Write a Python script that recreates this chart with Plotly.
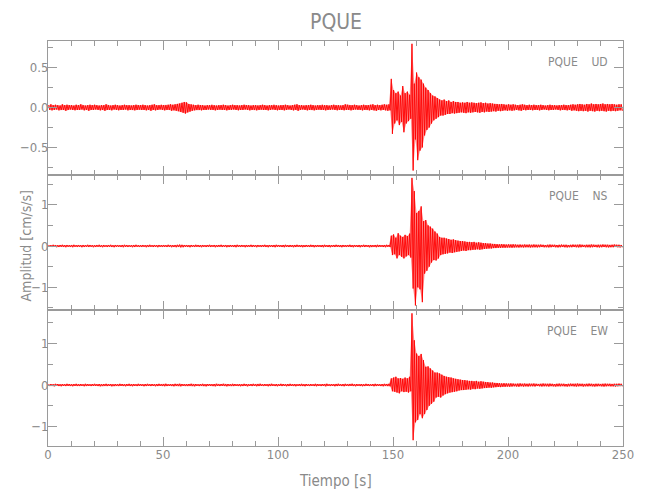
import plotly.graph_objects as go

# ---------------- data (envelope read per second, 0..249 s) ----------------
time_s = list(range(250))

ud_up = [
    0.03, 0.04, 0.03, 0.035, 0.03, 0.025, 0.04, 0.03, 0.035, 0.03,
    0.03, 0.025, 0.035, 0.03, 0.04, 0.03, 0.025, 0.03, 0.035, 0.03,
    0.035, 0.03, 0.025, 0.03, 0.03, 0.04, 0.03, 0.025, 0.03, 0.035,
    0.03, 0.025, 0.03, 0.035, 0.03, 0.03, 0.025, 0.03, 0.035, 0.03,
    0.03, 0.035, 0.03, 0.025, 0.03, 0.035, 0.04, 0.03, 0.03, 0.035,
    0.03, 0.03, 0.035, 0.04, 0.035, 0.04, 0.045, 0.05, 0.06, 0.07,
    0.065, 0.045, 0.04, 0.035, 0.03, 0.035, 0.03, 0.03, 0.025, 0.03,
    0.03, 0.035, 0.03, 0.025, 0.03, 0.03, 0.035, 0.03, 0.025, 0.03,
    0.035, 0.03, 0.03, 0.025, 0.03, 0.035, 0.03, 0.03, 0.025, 0.03,
    0.03, 0.025, 0.03, 0.035, 0.03, 0.025, 0.03, 0.03, 0.035, 0.03,
    0.025, 0.03, 0.03, 0.035, 0.03, 0.025, 0.03, 0.035, 0.04, 0.03,
    0.03, 0.025, 0.03, 0.03, 0.035, 0.03, 0.025, 0.03, 0.03, 0.035,
    0.03, 0.03, 0.025, 0.03, 0.035, 0.03, 0.03, 0.025, 0.03, 0.04,
    0.035, 0.03, 0.03, 0.035, 0.03, 0.025, 0.03, 0.035, 0.03, 0.03,
    0.035, 0.04, 0.03, 0.035, 0.03, 0.035, 0.04, 0.035, 0.04, 0.36,
    0.22, 0.18, 0.2, 0.15, 0.27, 0.18, 0.2, 0.16, 0.8, 0.3,
    0.44, 0.38, 0.35, 0.3, 0.25, 0.22, 0.18, 0.15, 0.14, 0.12,
    0.1, 0.09, 0.1, 0.08, 0.09, 0.07, 0.08, 0.07, 0.07, 0.06,
    0.065, 0.06, 0.07, 0.06, 0.065, 0.06, 0.055, 0.06, 0.065, 0.055,
    0.06, 0.05, 0.055, 0.05, 0.045, 0.045, 0.04, 0.045, 0.04, 0.035,
    0.04, 0.035, 0.04, 0.035, 0.03, 0.035, 0.04, 0.035, 0.03, 0.035,
    0.03, 0.035, 0.03, 0.03, 0.035, 0.03, 0.025, 0.03, 0.035, 0.03,
    0.03, 0.025, 0.03, 0.03, 0.035, 0.03, 0.03, 0.035, 0.04, 0.035,
    0.04, 0.045, 0.04, 0.035, 0.045, 0.04, 0.05, 0.04, 0.045, 0.04,
    0.045, 0.05, 0.04, 0.045, 0.04, 0.045, 0.04, 0.035, 0.04, 0.04,
]
ud_low = [
    -0.03, -0.035, -0.03, -0.025, -0.035, -0.03, -0.03, -0.04, -0.03, -0.025,
    -0.03, -0.035, -0.03, -0.03, -0.025, -0.035, -0.03, -0.04, -0.03, -0.03,
    -0.025, -0.03, -0.035, -0.03, -0.04, -0.03, -0.03, -0.035, -0.025, -0.03,
    -0.035, -0.03, -0.03, -0.025, -0.035, -0.03, -0.03, -0.035, -0.03, -0.025,
    -0.03, -0.03, -0.035, -0.03, -0.04, -0.03, -0.035, -0.03, -0.025, -0.03,
    -0.035, -0.03, -0.03, -0.04, -0.035, -0.04, -0.045, -0.055, -0.065, -0.075,
    -0.06, -0.05, -0.04, -0.035, -0.03, -0.03, -0.035, -0.03, -0.03, -0.025,
    -0.03, -0.03, -0.035, -0.03, -0.025, -0.03, -0.03, -0.035, -0.03, -0.03,
    -0.025, -0.03, -0.035, -0.03, -0.03, -0.025, -0.03, -0.035, -0.03, -0.03,
    -0.035, -0.03, -0.025, -0.03, -0.03, -0.035, -0.03, -0.025, -0.03, -0.035,
    -0.03, -0.03, -0.035, -0.03, -0.025, -0.03, -0.035, -0.03, -0.04, -0.03,
    -0.025, -0.03, -0.035, -0.03, -0.03, -0.035, -0.03, -0.025, -0.03, -0.03,
    -0.035, -0.03, -0.03, -0.025, -0.03, -0.035, -0.03, -0.03, -0.035, -0.03,
    -0.03, -0.035, -0.03, -0.025, -0.03, -0.03, -0.035, -0.03, -0.03, -0.035,
    -0.03, -0.035, -0.04, -0.03, -0.035, -0.03, -0.035, -0.04, -0.035, -0.33,
    -0.2, -0.16, -0.22, -0.18, -0.31, -0.2, -0.17, -0.14, -0.79, -0.4,
    -0.66, -0.54, -0.5, -0.35, -0.28, -0.25, -0.2, -0.16, -0.14, -0.12,
    -0.1, -0.1, -0.09, -0.08, -0.08, -0.07, -0.075, -0.07, -0.065, -0.06,
    -0.065, -0.07, -0.06, -0.065, -0.06, -0.055, -0.06, -0.065, -0.055, -0.06,
    -0.05, -0.055, -0.05, -0.045, -0.05, -0.04, -0.045, -0.04, -0.035, -0.04,
    -0.035, -0.04, -0.035, -0.03, -0.035, -0.04, -0.03, -0.035, -0.03, -0.03,
    -0.035, -0.03, -0.03, -0.035, -0.03, -0.025, -0.03, -0.035, -0.03, -0.03,
    -0.025, -0.03, -0.035, -0.03, -0.03, -0.035, -0.03, -0.04, -0.035, -0.04,
    -0.045, -0.04, -0.045, -0.04, -0.05, -0.04, -0.045, -0.05, -0.04, -0.045,
    -0.04, -0.045, -0.05, -0.04, -0.045, -0.04, -0.045, -0.04, -0.035, -0.04,
]

ns_up = [
    0.025, 0.02, 0.03, 0.025, 0.02, 0.025, 0.03, 0.02, 0.025, 0.02,
    0.025, 0.03, 0.02, 0.025, 0.02, 0.025, 0.02, 0.03, 0.025, 0.02,
    0.02, 0.025, 0.03, 0.02, 0.025, 0.02, 0.025, 0.03, 0.02, 0.025,
    0.025, 0.02, 0.025, 0.03, 0.025, 0.02, 0.02, 0.025, 0.03, 0.02,
    0.02, 0.025, 0.02, 0.025, 0.03, 0.02, 0.025, 0.02, 0.025, 0.02,
    0.025, 0.02, 0.03, 0.025, 0.02, 0.025, 0.03, 0.035, 0.03, 0.025,
    0.025, 0.02, 0.025, 0.02, 0.03, 0.025, 0.02, 0.025, 0.02, 0.025,
    0.03, 0.02, 0.025, 0.02, 0.025, 0.03, 0.02, 0.025, 0.02, 0.025,
    0.02, 0.025, 0.03, 0.02, 0.025, 0.02, 0.025, 0.02, 0.03, 0.025,
    0.02, 0.025, 0.02, 0.025, 0.03, 0.02, 0.025, 0.02, 0.025, 0.03,
    0.025, 0.02, 0.025, 0.03, 0.02, 0.025, 0.02, 0.025, 0.03, 0.02,
    0.025, 0.02, 0.025, 0.02, 0.03, 0.025, 0.02, 0.025, 0.02, 0.025,
    0.03, 0.02, 0.025, 0.02, 0.025, 0.03, 0.025, 0.02, 0.025, 0.02,
    0.025, 0.03, 0.02, 0.025, 0.02, 0.025, 0.02, 0.03, 0.025, 0.02,
    0.025, 0.02, 0.025, 0.03, 0.025, 0.02, 0.025, 0.03, 0.025, 0.25,
    0.28, 0.2, 0.31, 0.25, 0.22, 0.27, 0.24, 0.3, 1.65, 1.33,
    0.8, 0.85, 0.96, 0.6, 0.63, 0.5, 0.47, 0.42, 0.35, 0.3,
    0.22, 0.2, 0.2, 0.18, 0.17, 0.15, 0.16, 0.14, 0.13, 0.12,
    0.12, 0.11, 0.1, 0.1, 0.09, 0.1, 0.08, 0.09, 0.08, 0.07,
    0.07, 0.06, 0.06, 0.05, 0.05, 0.045, 0.04, 0.045, 0.04, 0.035,
    0.04, 0.035, 0.04, 0.035, 0.03, 0.035, 0.03, 0.035, 0.03, 0.035,
    0.03, 0.035, 0.03, 0.03, 0.035, 0.03, 0.025, 0.03, 0.035, 0.03,
    0.03, 0.025, 0.03, 0.035, 0.03, 0.03, 0.025, 0.03, 0.035, 0.03,
    0.03, 0.035, 0.03, 0.025, 0.03, 0.03, 0.035, 0.03, 0.025, 0.03,
    0.03, 0.035, 0.03, 0.03, 0.025, 0.03, 0.035, 0.03, 0.03, 0.025,
]
ns_low = [
    -0.02, -0.025, -0.02, -0.03, -0.025, -0.02, -0.025, -0.03, -0.02, -0.025,
    -0.03, -0.02, -0.025, -0.02, -0.03, -0.025, -0.02, -0.025, -0.02, -0.03,
    -0.025, -0.02, -0.025, -0.03, -0.02, -0.025, -0.02, -0.025, -0.03, -0.02,
    -0.02, -0.025, -0.03, -0.02, -0.025, -0.02, -0.03, -0.025, -0.02, -0.025,
    -0.025, -0.02, -0.03, -0.025, -0.02, -0.025, -0.02, -0.03, -0.02, -0.025,
    -0.02, -0.025, -0.02, -0.03, -0.025, -0.03, -0.025, -0.035, -0.03, -0.02,
    -0.025, -0.03, -0.02, -0.025, -0.02, -0.025, -0.03, -0.02, -0.025, -0.02,
    -0.025, -0.02, -0.03, -0.025, -0.02, -0.025, -0.02, -0.03, -0.025, -0.02,
    -0.025, -0.03, -0.02, -0.025, -0.02, -0.03, -0.025, -0.02, -0.025, -0.02,
    -0.03, -0.02, -0.025, -0.02, -0.025, -0.03, -0.02, -0.025, -0.03, -0.02,
    -0.02, -0.025, -0.03, -0.02, -0.025, -0.02, -0.03, -0.025, -0.02, -0.025,
    -0.03, -0.025, -0.02, -0.025, -0.02, -0.03, -0.025, -0.02, -0.025, -0.03,
    -0.02, -0.025, -0.03, -0.02, -0.025, -0.02, -0.025, -0.03, -0.02, -0.025,
    -0.02, -0.025, -0.03, -0.02, -0.025, -0.03, -0.02, -0.025, -0.02, -0.03,
    -0.025, -0.02, -0.03, -0.025, -0.02, -0.025, -0.03, -0.02, -0.025, -0.22,
    -0.2, -0.3, -0.22, -0.26, -0.3, -0.25, -0.22, -0.28, -1.03, -1.44,
    -1.0, -1.05, -1.36, -0.67, -0.6, -0.5, -0.4, -0.34, -0.35, -0.3,
    -0.22, -0.2, -0.19, -0.18, -0.16, -0.17, -0.15, -0.14, -0.13, -0.12,
    -0.11, -0.12, -0.1, -0.1, -0.09, -0.09, -0.08, -0.09, -0.08, -0.07,
    -0.065, -0.06, -0.06, -0.05, -0.05, -0.045, -0.045, -0.04, -0.04, -0.035,
    -0.035, -0.04, -0.035, -0.03, -0.035, -0.03, -0.035, -0.03, -0.03, -0.035,
    -0.03, -0.03, -0.035, -0.03, -0.025, -0.03, -0.03, -0.035, -0.03, -0.025,
    -0.03, -0.035, -0.03, -0.025, -0.03, -0.035, -0.03, -0.03, -0.025, -0.03,
    -0.035, -0.03, -0.025, -0.03, -0.03, -0.035, -0.03, -0.025, -0.03, -0.035,
    -0.03, -0.025, -0.03, -0.035, -0.03, -0.03, -0.025, -0.03, -0.035, -0.03,
]

ew_up = [
    0.02, 0.025, 0.02, 0.03, 0.025, 0.02, 0.025, 0.02, 0.03, 0.025,
    0.02, 0.025, 0.03, 0.02, 0.025, 0.02, 0.03, 0.025, 0.02, 0.025,
    0.03, 0.02, 0.025, 0.02, 0.025, 0.03, 0.02, 0.025, 0.02, 0.025,
    0.02, 0.03, 0.025, 0.02, 0.025, 0.03, 0.02, 0.025, 0.02, 0.03,
    0.025, 0.02, 0.025, 0.03, 0.02, 0.025, 0.02, 0.025, 0.03, 0.02,
    0.025, 0.03, 0.02, 0.025, 0.02, 0.03, 0.025, 0.03, 0.025, 0.02,
    0.02, 0.025, 0.03, 0.02, 0.025, 0.02, 0.025, 0.03, 0.02, 0.025,
    0.025, 0.02, 0.025, 0.03, 0.02, 0.025, 0.03, 0.02, 0.025, 0.02,
    0.03, 0.025, 0.02, 0.025, 0.02, 0.03, 0.025, 0.02, 0.025, 0.03,
    0.02, 0.025, 0.03, 0.02, 0.025, 0.02, 0.025, 0.03, 0.02, 0.025,
    0.02, 0.03, 0.025, 0.02, 0.025, 0.03, 0.02, 0.025, 0.02, 0.025,
    0.03, 0.02, 0.025, 0.02, 0.025, 0.02, 0.03, 0.025, 0.02, 0.025,
    0.025, 0.03, 0.02, 0.025, 0.02, 0.025, 0.03, 0.02, 0.025, 0.03,
    0.02, 0.025, 0.03, 0.02, 0.025, 0.02, 0.025, 0.02, 0.03, 0.025,
    0.02, 0.025, 0.03, 0.025, 0.02, 0.025, 0.03, 0.025, 0.03, 0.16,
    0.18, 0.2, 0.16, 0.17, 0.15, 0.18, 0.16, 0.2, 1.73, 1.08,
    0.76, 0.7, 0.75, 0.6, 0.44, 0.45, 0.4, 0.35, 0.3, 0.3,
    0.28, 0.25, 0.22, 0.2, 0.19, 0.18, 0.16, 0.15, 0.14, 0.13,
    0.12, 0.12, 0.11, 0.1, 0.1, 0.09, 0.1, 0.08, 0.09, 0.08,
    0.07, 0.07, 0.06, 0.06, 0.05, 0.05, 0.045, 0.04, 0.045, 0.04,
    0.035, 0.04, 0.035, 0.03, 0.035, 0.04, 0.03, 0.035, 0.03, 0.035,
    0.03, 0.035, 0.03, 0.025, 0.03, 0.035, 0.03, 0.03, 0.035, 0.03,
    0.025, 0.03, 0.035, 0.03, 0.03, 0.025, 0.03, 0.035, 0.03, 0.03,
    0.035, 0.03, 0.03, 0.025, 0.03, 0.035, 0.03, 0.025, 0.03, 0.03,
    0.025, 0.03, 0.035, 0.03, 0.03, 0.025, 0.03, 0.03, 0.035, 0.03,
]
ew_low = [
    -0.025, -0.02, -0.03, -0.02, -0.025, -0.03, -0.02, -0.025, -0.02, -0.025,
    -0.03, -0.02, -0.025, -0.025, -0.02, -0.03, -0.025, -0.02, -0.025, -0.02,
    -0.02, -0.025, -0.03, -0.025, -0.02, -0.025, -0.02, -0.03, -0.025, -0.02,
    -0.025, -0.02, -0.025, -0.03, -0.02, -0.025, -0.03, -0.02, -0.025, -0.02,
    -0.02, -0.03, -0.025, -0.02, -0.025, -0.02, -0.03, -0.025, -0.02, -0.025,
    -0.03, -0.025, -0.02, -0.025, -0.03, -0.02, -0.025, -0.03, -0.02, -0.025,
    -0.025, -0.02, -0.025, -0.03, -0.02, -0.025, -0.02, -0.025, -0.03, -0.02,
    -0.02, -0.025, -0.03, -0.02, -0.025, -0.02, -0.025, -0.03, -0.02, -0.025,
    -0.025, -0.02, -0.025, -0.03, -0.025, -0.02, -0.03, -0.02, -0.025, -0.02,
    -0.03, -0.025, -0.02, -0.025, -0.02, -0.03, -0.025, -0.02, -0.025, -0.03,
    -0.02, -0.025, -0.02, -0.03, -0.025, -0.02, -0.025, -0.03, -0.02, -0.025,
    -0.025, -0.03, -0.02, -0.025, -0.02, -0.025, -0.03, -0.02, -0.025, -0.02,
    -0.03, -0.02, -0.025, -0.02, -0.03, -0.025, -0.02, -0.025, -0.03, -0.02,
    -0.025, -0.02, -0.025, -0.03, -0.02, -0.025, -0.03, -0.025, -0.02, -0.025,
    -0.02, -0.03, -0.025, -0.02, -0.025, -0.03, -0.02, -0.025, -0.03, -0.15,
    -0.16, -0.18, -0.2, -0.15, -0.17, -0.16, -0.18, -0.15, -1.33, -0.9,
    -0.84, -0.7, -0.8, -0.7, -0.6, -0.5, -0.45, -0.4, -0.3, -0.28,
    -0.3, -0.25, -0.22, -0.2, -0.18, -0.17, -0.16, -0.15, -0.13, -0.12,
    -0.12, -0.11, -0.1, -0.11, -0.09, -0.1, -0.08, -0.09, -0.08, -0.07,
    -0.07, -0.06, -0.065, -0.055, -0.05, -0.045, -0.05, -0.04, -0.04, -0.035,
    -0.04, -0.035, -0.03, -0.035, -0.04, -0.03, -0.035, -0.03, -0.035, -0.03,
    -0.03, -0.035, -0.025, -0.03, -0.035, -0.03, -0.03, -0.035, -0.025, -0.03,
    -0.035, -0.03, -0.03, -0.025, -0.03, -0.035, -0.03, -0.025, -0.03, -0.035,
    -0.03, -0.025, -0.035, -0.03, -0.03, -0.025, -0.03, -0.035, -0.03, -0.025,
    -0.03, -0.035, -0.03, -0.025, -0.03, -0.03, -0.035, -0.03, -0.025, -0.03,
]

components = ["UD", "NS", "EW"]
station = "PQUE"
y_ranges = [[-0.846, 0.835], [-1.55, 1.72], [-1.47, 1.81]]
y_dticks = [0.5, 1.0, 1.0]
y_minor = [0.25, 0.5, 0.5]
y_formats = [".1f", "d", "d"]
x_range = [0, 250]

# -------------------------------------------------------------------------
def interleave(up, low):
    xs, ys = [], []
    for t, a, b in zip(time_s, up, low):
        xs += [t + 0.25, t + 0.75]
        ys += [a, b]
    return xs, ys


def envelope(up, low):
    xs = [t + 0.25 for t in time_s] + [t + 0.75 for t in reversed(time_s)]
    ys = list(up) + list(reversed(low))
    return xs, ys


FONT = "Liberation Sans Narrow, DejaVu Sans Condensed, Roboto, Liberation Sans, sans-serif"
GREY = "#8a8a8a"
AX = "#9a9a9a"

fig = go.Figure()
series = [(ud_up, ud_low), (ns_up, ns_low), (ew_up, ew_low)]
for i, (u, l) in enumerate(series):
    suffix = "" if i == 0 else str(i + 1)
    ex, ey = envelope(u, l)
    fig.add_trace(go.Scatter(x=ex, y=ey, mode="lines", fill="toself",
                             fillcolor="rgba(255,0,0,0.45)",
                             line=dict(width=0, color="rgba(255,0,0,0)"),
                             xaxis="x" + suffix, yaxis="y" + suffix,
                             showlegend=False, hoverinfo="skip"))
    xs, ys = interleave(u, l)
    fig.add_trace(go.Scatter(x=xs, y=ys, mode="lines",
                             line=dict(color="#ff0000", width=0.9),
                             xaxis="x" + suffix, yaxis="y" + suffix,
                             showlegend=False, hoverinfo="skip"))

H = 405.0
W = 575.0
domains = [[271 / H, 1.0], [136 / H, 271 / H], [0.0, 136 / H]]

layout = dict(
    width=650, height=500,
    margin=dict(l=40, r=35, t=33, b=62),
    paper_bgcolor="white", plot_bgcolor="white",
    font=dict(family=FONT, color=GREY, size=13),
    showlegend=False,
)
for i in range(3):
    suffix = "" if i == 0 else str(i + 1)
    layout["xaxis" + suffix] = dict(
        domain=[0, 1], anchor="y" + suffix, range=x_range,
        showline=True, linecolor=AX, linewidth=1, mirror="ticks",
        ticks="inside", ticklen=9, tickcolor=AX, tickwidth=1,
        tick0=0, dtick=50, showgrid=False, zeroline=False,
        showticklabels=(i == 2), ticklabelstandoff=-4,
        minor=dict(ticks="inside", ticklen=5, tickcolor=AX, dtick=10, tick0=0, showgrid=False),
        tickfont=dict(size=13, color=GREY),
    )
    layout["yaxis" + suffix] = dict(
        domain=domains[i], anchor="x" + suffix, range=y_ranges[i],
        showline=True, linecolor=AX, linewidth=1, mirror="ticks",
        ticks="inside", ticklen=9, tickcolor=AX, tickwidth=1,
        tick0=0, dtick=y_dticks[i], tickformat=y_formats[i],
        showgrid=False, zeroline=False, ticklabelstandoff=-4,
        minor=dict(ticks="inside", ticklen=5, tickcolor=AX, dtick=y_minor[i], tick0=0, showgrid=False),
        tickfont=dict(size=13, color=GREY),
    )

fig.update_layout(**layout)

annotations = [
    dict(text=station, xref="paper", yref="paper", x=0.5, y=1, yshift=5,
         xanchor="center", yanchor="bottom", showarrow=False,
         font=dict(size=21, color=GREY, family=FONT)),
    dict(text="Tiempo [s]", xref="paper", yref="paper", x=0.5, y=(446 - 481) / H,
         xanchor="center", yanchor="middle", showarrow=False,
         font=dict(size=15, color=GREY, family=FONT)),
    dict(text="Amplitud [cm/s/s]", xref="paper", yref="paper", x=(25 - 48) / W,
         y=(446 - 246.5) / H, xanchor="center", yanchor="middle", textangle=-90,
         showarrow=False, font=dict(size=14, color=GREY, family=FONT)),
]
for i, comp in enumerate(components):
    suffix = "" if i == 0 else str(i + 1)
    annotations.append(dict(
        text=station + "\u00a0\u00a0\u00a0\u00a0" + comp,
        xref="x" + suffix + " domain", yref="y" + suffix + " domain",
        x=1, y=1, xshift=-13, yshift=-21, xanchor="right", yanchor="middle",
        showarrow=False, font=dict(size=12, color=GREY, family=FONT)))
fig.update_layout(annotations=annotations)

fig.write_html("out.html")
